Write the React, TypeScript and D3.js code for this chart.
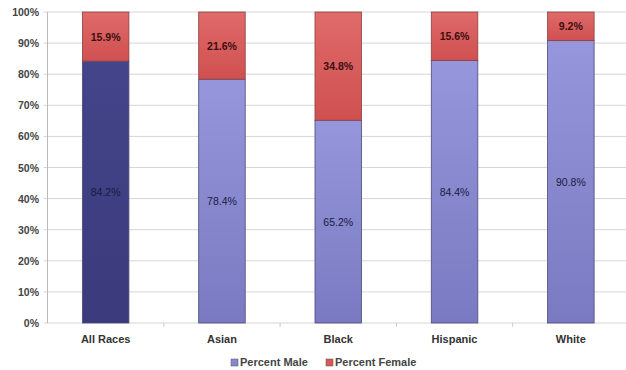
import React from "react";
import * as d3 from "d3";

const categories = ["All Races", "Asian", "Black", "Hispanic", "White"];
const male = [84.2, 78.4, 65.2, 84.4, 90.8];
const female = [15.9, 21.6, 34.8, 15.6, 9.2];
const yTicks = [0, 10, 20, 30, 40, 50, 60, 70, 80, 90, 100];
const seriesNames = ["Percent Male", "Percent Female"];

export default function App() {
  const W = 626, H = 370;
  const left = 47.5, right = 629, top = 12, bottom = 323;
  const x = d3.scaleBand().domain(categories).range([left, right]).paddingInner(0.6).paddingOuter(0.3);
  const y = d3.scaleLinear().domain([0, 100]).range([bottom, top]);
  const font = "Arial, 'Liberation Sans', sans-serif";
  return (
    <svg width={W} height={H} style={{ position: "absolute", left: 0, top: 0 }}>
      <defs>
        <linearGradient id="gm" x1="0" y1="0" x2="0" y2="1">
          <stop offset="0" stopColor="#9696dc" />
          <stop offset="1" stopColor="#7a7ac2" />
        </linearGradient>
        <linearGradient id="gd" x1="0" y1="0" x2="0" y2="1">
          <stop offset="0" stopColor="#44448a" />
          <stop offset="1" stopColor="#3a3a7c" />
        </linearGradient>
        <linearGradient id="gf" x1="0" y1="0" x2="0" y2="1">
          <stop offset="0" stopColor="#e06a6a" />
          <stop offset="1" stopColor="#d05050" />
        </linearGradient>
      </defs>
      <rect width={W} height={H} fill="#fff" />
      {yTicks.map((t) => (
        <g key={t}>
          <line x1={left - 4} x2={W} y1={y(t)} y2={y(t)} stroke="#d6d6d6" strokeWidth={1} />
          <text x={39} y={y(t) + 4} textAnchor="end" fontFamily={font} fontSize={10.5} fontWeight="bold" fill="#444">{t}%</text>
        </g>
      ))}
      <line x1={left} x2={left} y1={top} y2={bottom} stroke="#bbb" />
      {categories.map((c, i) => {
        const bx = x(c)!;
        const bw = x.bandwidth();
        const step = x.step();
        const cx = bx + bw / 2;
        return (
          <g key={c}>
            <line x1={cx + step / 2} x2={cx + step / 2} y1={bottom} y2={bottom + 4} stroke="#ccc" />
            <rect x={bx} y={y(male[i])} width={bw} height={y(0) - y(male[i])} fill={i === 0 ? "url(#gd)" : "url(#gm)"} stroke="#4a4a7a" strokeWidth={0.8} />
            <rect x={bx} y={y(100)} width={bw} height={y(male[i]) - y(100)} fill="url(#gf)" stroke="#8a4040" strokeWidth={0.8} />
            <text x={cx} y={y(male[i] / 2) + 4} textAnchor="middle" fontFamily={font} fontSize={10.5} fill="#1a1a40">{male[i].toFixed(1)}%</text>
            <text x={cx} y={y(male[i] + (100 - male[i]) / 2) + 4} textAnchor="middle" fontFamily={font} fontSize={10.5} fontWeight="bold" fill="#3a1010">{female[i].toFixed(1)}%</text>
            <text x={cx} y={343} textAnchor="middle" fontFamily={font} fontSize={11} fontWeight="bold" fill="#333">{c}</text>
          </g>
        );
      })}
      <g>
        <rect x={231} y={359} width={7} height={7} fill="#8888d0" stroke="#555" strokeWidth={0.5} />
        <text x={240} y={366} fontFamily={font} fontSize={11} fontWeight="bold" fill="#444">{seriesNames[0]}</text>
        <rect x={326} y={359} width={7} height={7} fill="#d85858" stroke="#555" strokeWidth={0.5} />
        <text x={335} y={366} fontFamily={font} fontSize={11} fontWeight="bold" fill="#444">{seriesNames[1]}</text>
      </g>
    </svg>
  );
}
